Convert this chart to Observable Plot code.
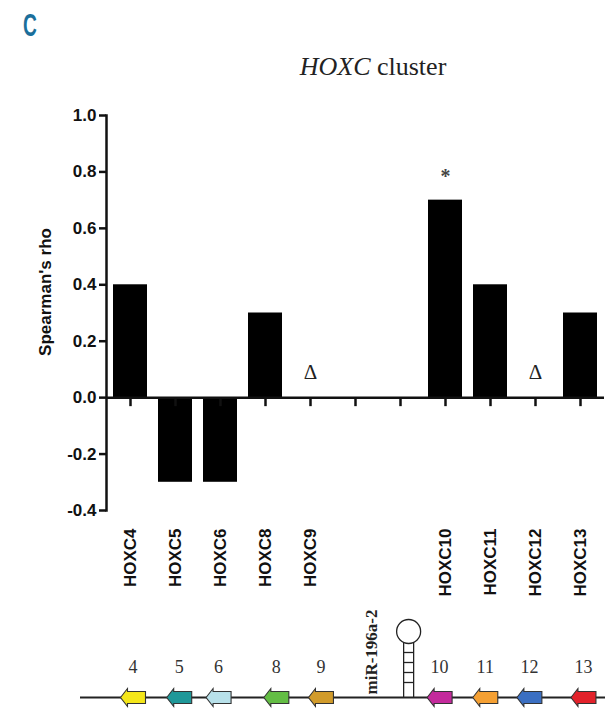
<!DOCTYPE html>
<html><head><meta charset="utf-8">
<script src="https://cdn.jsdelivr.net/npm/d3@7"></script>
<script src="https://cdn.jsdelivr.net/npm/@observablehq/plot@0.6"></script>
<style>
html,body{margin:0;padding:0;background:#fff;}
#page{position:relative;width:605px;height:709px;overflow:hidden;background:#fff;}
#panel{position:absolute;left:23px;top:9px;font:bold 32px "Liberation Sans",Arial,sans-serif;line-height:32px;color:#1b6f9b;transform:scaleX(0.6);transform-origin:0 0;}
#title{position:absolute;left:373px;top:54px;transform:translateX(-50%);font:26px "Liberation Serif","Times New Roman",serif;line-height:26px;color:#222;white-space:nowrap;}
#chart{position:absolute;left:0;top:100px;}
#diagram{position:absolute;left:0;top:600px;}
</style></head>
<body><div id="page">
<div id="panel">C</div>
<div id="title"><i>HOXC</i> cluster</div>
<div id="chart"></div><div id="diagram"></div>
</div>
<script>
// ---- bar chart data ----
const genes = ["HOXC4","HOXC5","HOXC6","HOXC8","HOXC9","gap1","gap2","HOXC10","HOXC11","HOXC12","HOXC13"];
const rho = [0.4, -0.3, -0.3, 0.3, null, null, null, 0.7, 0.4, null, 0.3];
const yTicks = [-0.4, -0.2, 0.0, 0.2, 0.4, 0.6, 0.8, 1.0];
const deltaGenes = ["HOXC9", "HOXC12"];
const starGenes = ["HOXC10"];

// ---- cluster diagram data (schematic positions along the cluster, 0-100) ----
const clusterLabels = ["4","5","6","8","9","10","11","12","13"];
const clusterPos = [10.0, 18.8, 26.3, 37.3, 45.8, 68.4, 77.1, 85.5, 95.8];
const clusterColors = ["#f4e61a","#1f9899","#b8e1ea","#63bd44","#d19b2b","#c42a9c","#f5a033","#3b6fc2","#e3222b"];
const mirName = "miR-196a-2";
const mirPos = 62.5;

const bars = genes.map((g, i) => ({gene: g, value: rho[i]})).filter(d => d.value != null);
const valueOf = Object.fromEntries(genes.map((g, i) => [g, rho[i]]));
const deltas = deltaGenes.map(g => ({gene: g, y: 0, label: "Δ"}));
const stars = starGenes.map(g => ({gene: g, y: valueOf[g], label: "*"}));

const chart = Plot.plot({
  width: 605, height: 500,
  marginTop: 15, marginBottom: 90, marginLeft: 106, marginRight: 1,
  style: {fontFamily: '"Liberation Sans", Arial, sans-serif', fontSize: "17px", fontWeight: "bold", color: "#111", background: "transparent"},
  x: {type: "band", domain: genes, paddingInner: 0.25, paddingOuter: 0.125},
  y: {domain: [-0.4, 1.0]},
  marks: [
    Plot.barY(bars, {x: "gene", y: "value", fill: "#000"}),
    Plot.ruleY([0], {stroke: "#111", strokeWidth: 2.5}),
    Plot.ruleX(genes, {x: d => d, y1: 0, y2: 0, insetBottom: -9, stroke: "#111", strokeWidth: 2.5}),
    Plot.frame({anchor: "left", stroke: "#111", strokeWidth: 2.5}),
    Plot.axisY({ticks: yTicks, tickFormat: d => d.toFixed(1), tickSize: 7, tickPadding: 3, strokeWidth: 2.5, label: null, fontWeight: "bold", fontSize: 17}),
    Plot.axisX({tickSize: 0, tickPadding: 18, tickRotate: -90, tickFormat: d => d.startsWith("gap") ? "" : d, label: null, fontWeight: "bold", fontSize: 17}),
    Plot.text(["Spearman's rho"], {frameAnchor: "left", textAnchor: "middle", rotate: -90, dx: -61, dy: -21, fontSize: 17, fontWeight: "bold"}),
    Plot.text(deltas, {x: "gene", y: "y", text: "label", dy: -25, fontFamily: '"Liberation Serif", serif', fontWeight: "normal", fontSize: 21, fill: "#222"}),
    Plot.text(stars, {x: "gene", y: "y", text: "label", dy: -24, fontFamily: '"Liberation Serif", serif', fontWeight: "bold", fontSize: 20, fill: "#444"})
  ]
});
document.getElementById("chart").appendChild(chart);

// ---- diagram ----
const geneArrow = {
  draw(context, l) {
    const h = l / 2, bw = 6, hw = 9, hl = 7;
    context.moveTo(0, -h);
    context.lineTo(hw, -h + hl);
    context.lineTo(bw, -h + hl);
    context.lineTo(bw, h);
    context.lineTo(-bw, h);
    context.lineTo(-bw, -h + hl);
    context.lineTo(-hw, -h + hl);
    context.closePath();
  }
};
const cluster = clusterLabels.map((lab, i) => ({label: lab, pos: clusterPos[i], color: clusterColors[i]}));
const rungs = [15, 25, 35, 45];

const diagram = Plot.plot({
  width: 605, height: 109,
  marginTop: 0, marginBottom: 12, marginLeft: 80, marginRight: 0,
  style: {background: "transparent", color: "#222"},
  x: {domain: [0, 100], axis: null},
  y: {domain: [0, 1], range: [97, 0], axis: null},
  marks: [
    Plot.ruleY([0], {stroke: "#222", strokeWidth: 2}),
    Plot.ruleX([mirPos], {x: d => d, y1: 0, y2: 0, insetTop: -55, dx: -5, stroke: "#222", strokeWidth: 1.3}),
    Plot.ruleX([mirPos], {x: d => d, y1: 0, y2: 0, insetTop: -55, dx: 5, stroke: "#222", strokeWidth: 1.3}),
    ...rungs.map(r => Plot.ruleY([0], {x1: mirPos, x2: mirPos, dy: -r, insetLeft: -5, insetRight: -5, stroke: "#222", strokeWidth: 1.3})),
    Plot.dot([mirPos], {x: d => d, y: 0, dy: -66, r: 12, fill: "#fff", stroke: "#222", strokeWidth: 1.3}),
    Plot.text([mirName], {x: mirPos, y: 0, dx: -37, dy: -3, rotate: -90, textAnchor: "start", fontFamily: '"Liberation Serif", serif', fontWeight: "bold", fontSize: 17, fill: "#222"}),
    Plot.vector(cluster, {x: "pos", y: 0, rotate: -90, length: 25, anchor: "start", shape: geneArrow, fill: d => d.color, stroke: "#333", strokeWidth: 1.1, strokeLinejoin: "miter"}),
    Plot.text(cluster, {x: "pos", y: 0, dy: -30, text: "label", fontFamily: '"Liberation Serif", serif', fontSize: 18, fill: "#333"})
  ]
});
document.getElementById("diagram").appendChild(diagram);
</script>
</body></html>
